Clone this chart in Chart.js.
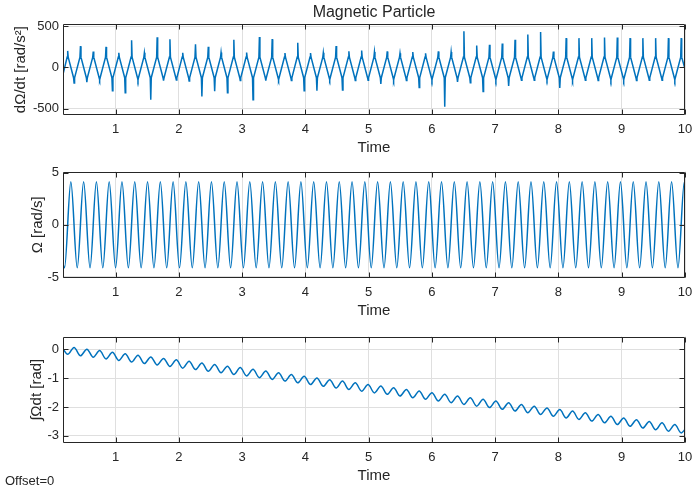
<!DOCTYPE html>
<html><head><meta charset="utf-8">
<script src="https://cdn.jsdelivr.net/npm/chart.js@4/dist/chart.umd.min.js"></script>
<style>
body{margin:0;background:#fff;width:693px;height:491px;overflow:hidden;position:relative;font-family:"Liberation Sans",Arial,sans-serif}
canvas{position:absolute;left:0}
#offset{position:absolute;left:5px;top:473px;font-size:13px;line-height:16px;color:#262626}
</style></head><body>
<canvas id="c1" width="693" height="160" style="top:0px"></canvas>
<canvas id="c2" width="693" height="163" style="top:160px"></canvas>
<canvas id="c3" width="693" height="165" style="top:323px"></canvas>
<div id="offset">Offset=0</div>
<script>
// ---- data ----
// times of the upward spikes of dΩ/dt (one per oscillation cycle)
const cycleTimes = [0.244,0.446,0.648,0.850,1.052,1.254,1.456,1.658,1.860,2.062,2.264,2.466,2.668,2.870,3.072,3.274,3.476,3.678,3.880,4.082,4.284,4.486,4.688,4.890,5.092,5.294,5.496,5.698,5.900,6.102,6.304,6.506,6.708,6.910,7.112,7.314,7.516,7.718,7.920,8.122,8.324,8.526,8.728,8.930,9.132,9.334,9.536,9.738,9.940];
const halfPeriod = 0.101;
const quarterPeriod = 0.05;
const xRange = [0.17, 10];
const xTicks = [1,2,3,4,5,6,7,8,9,10];

// dΩ/dt [rad/s^2]
const accelSpikeUp = [200,258,192,249,177,330,177,366,340,178,281,250,180,335,180,370,343,175,298,175,178,260,195,205,186,194,172,186,172,194,186,437,266,274,290,335,400,430,192,355,355,355,362,362,355,355,355,355,355];
const accelSpikeDown = [-190,-178,-150,-283,-308,-155,-393,-160,-152,-165,-352,-290,-308,-160,-393,-160,-150,-160,-283,-283,-150,-273,-160,-155,-200,-155,-160,-245,-155,-478,-175,-185,-292,-155,-225,-155,-155,-150,-248,-155,-155,-158,-155,-155,-158,-155,-155,-155];
const accelShoulder = [125, -125];
const accelEnds = [-85, -20];
const accelTicks = [-500, 0, 500];
const accelRange = [-577, 524];

// Ω [rad/s]
const omegaPeaks = [4.13,4.13,4.13,4.13,4.13,4.13,4.13,4.13,4.13,4.13,4.13,4.13,4.13,4.13,4.13,4.13,4.13,4.13,4.13,4.13,4.13,4.13,4.13,4.13,4.13,4.13,4.13,4.13,4.13,4.13,4.13,4.13,4.13,4.13,4.13,4.13,4.13,4.13,4.13,4.13,4.13,4.13,4.13,4.13,4.13,4.13,4.13,4.13,4.13];
const omegaTroughs = [-4.13,-4.13,-4.13,-4.13,-4.13,-4.13,-4.13,-4.13,-4.13,-4.13,-4.13,-4.13,-4.13,-4.13,-4.13,-4.13,-4.13,-4.13,-4.13,-4.13,-4.13,-4.13,-4.13,-4.13,-4.13,-4.13,-4.13,-4.13,-4.13,-4.13,-4.13,-4.13,-4.13,-4.13,-4.13,-4.13,-4.13,-4.13,-4.13,-4.13,-4.13,-4.13,-4.13,-4.13,-4.13,-4.13,-4.13,-4.13,-4.13,-4.13];
const omegaStart = -3.8;
const omegaTicks = [-5, 0, 5];
const omegaRange = [-5.1, 5.1];

// ∫Ωdt [rad]
const angleMins = [-0.17,-0.22,-0.27,-0.33,-0.38,-0.44,-0.49,-0.54,-0.59,-0.65,-0.70,-0.76,-0.81,-0.87,-0.92,-0.98,-1.04,-1.10,-1.16,-1.22,-1.28,-1.34,-1.39,-1.45,-1.51,-1.56,-1.62,-1.68,-1.73,-1.79,-1.85,-1.91,-1.97,-2.02,-2.08,-2.14,-2.20,-2.26,-2.32,-2.38,-2.43,-2.49,-2.55,-2.61,-2.67,-2.73,-2.79,-2.84,-2.90];
const angleMaxs = [0.07,0.01,-0.04,-0.10,-0.15,-0.20,-0.26,-0.31,-0.36,-0.41,-0.47,-0.52,-0.58,-0.63,-0.69,-0.75,-0.81,-0.87,-0.93,-0.99,-1.05,-1.10,-1.16,-1.22,-1.27,-1.33,-1.39,-1.44,-1.50,-1.56,-1.62,-1.68,-1.73,-1.79,-1.85,-1.91,-1.97,-2.03,-2.09,-2.14,-2.20,-2.26,-2.32,-2.38,-2.44,-2.50,-2.55,-2.61];
const angleEnds = [0.02, -2.78];
const angleTicks = [-3, -2, -1, 0];
const angleRange = [-3.25, 0.45];

// ---- build point lists from the arrays ----
const spikeHalfWidth = 0.008;
const accelPts = [{x: xRange[0], y: accelEnds[0]}];
cycleTimes.forEach((t, i) => {
  accelPts.push({x: t - spikeHalfWidth, y: accelShoulder[0]}, {x: t, y: accelSpikeUp[i]}, {x: t + spikeHalfWidth, y: accelShoulder[0]});
  if (i < accelSpikeDown.length) {
    const td = t + halfPeriod;
    accelPts.push({x: td - spikeHalfWidth, y: accelShoulder[1]}, {x: td, y: accelSpikeDown[i]}, {x: td + spikeHalfWidth, y: accelShoulder[1]});
  }
});
accelPts.push({x: xRange[1], y: accelEnds[1]});

const omegaPts = [{x: xRange[0], y: omegaStart}, {x: cycleTimes[0] - quarterPeriod, y: omegaTroughs[0]}];
cycleTimes.forEach((t, i) => {
  omegaPts.push({x: t + quarterPeriod, y: omegaPeaks[i]}, {x: t + quarterPeriod + halfPeriod, y: omegaTroughs[i + 1]});
});

const anglePts = [{x: xRange[0], y: angleEnds[0]}];
cycleTimes.forEach((t, i) => {
  anglePts.push({x: t, y: angleMins[i]});
  if (i < angleMaxs.length) anglePts.push({x: t + halfPeriod, y: angleMaxs[i]});
});
anglePts.push({x: xRange[1], y: angleEnds[1]});

// ---- styling ----
const FONT = '"Liberation Sans", Arial, Helvetica, sans-serif';
const TXT = '#262626';
const LINE = '#0072BD';
const GRID = '#dfdfdf';

const frame = {
  id: 'frame',
  afterDraw(chart) {
    const {ctx, chartArea: a, scales: {x, y}} = chart;
    ctx.save();
    ctx.strokeStyle = TXT;
    ctx.lineWidth = 1;
    const L = Math.round(a.left) + 0.5, R = Math.round(a.right) - 0.5, T = Math.round(a.top) + 0.5, B = Math.round(a.bottom) - 0.5;
    ctx.beginPath();
    ctx.rect(L, T, R - L, B - T);
    x.ticks.forEach(t => { const p = Math.round(x.getPixelForValue(t.value)) + 0.5; ctx.moveTo(p, B); ctx.lineTo(p, B - 5); ctx.moveTo(p, T); ctx.lineTo(p, T + 5); });
    y.ticks.forEach(t => { const p = Math.round(y.getPixelForValue(t.value)) + 0.5; ctx.moveTo(L, p); ctx.lineTo(L + 5, p); ctx.moveTo(R, p); ctx.lineTo(R - 5, p); });
    ctx.stroke();
    ctx.restore();
  }
};

function makeChart(id, pts, yRange, yTicks, yLabel, yTitlePad, padTop, title, smooth) {
  return new Chart(document.getElementById(id), {
    type: 'line',
    data: {datasets: [{data: pts, borderColor: LINE, borderWidth: 1.5, pointRadius: 0, fill: false,
      tension: 0, cubicInterpolationMode: smooth ? 'monotone' : 'default'}]},
    options: {
      responsive: false, animation: false, devicePixelRatio: 1,
      layout: {padding: {top: padTop, right: 8, left: 0, bottom: 0}},
      plugins: {
        legend: {display: false}, tooltip: {enabled: false},
        title: title ? {display: true, fullSize: false, text: title, color: TXT, font: {family: FONT, size: 16, weight: 'normal'}, padding: {top: 3, bottom: 2}} : {display: false}
      },
      scales: {
        x: {
          type: 'linear', min: xRange[0], max: xRange[1],
          afterBuildTicks: s => { s.ticks = xTicks.map(v => ({value: v})); },
          afterFit: s => { s.height = 45; s.paddingLeft = 0; s.paddingRight = 0; },
          ticks: {color: TXT, font: {family: FONT, size: 13}, padding: 6.5, maxRotation: 0, callback: v => String(v)},
          grid: {color: GRID, lineWidth: 1, drawTicks: false},
          border: {display: false},
          title: {display: true, text: 'Time', color: TXT, font: {family: FONT, size: 15}, padding: {top: 0, bottom: 3}}
        },
        y: {
          type: 'linear', min: yRange[0], max: yRange[1],
          afterBuildTicks: s => { s.ticks = yTicks.map(v => ({value: v})); },
          afterFit: s => { s.width = 63; s.paddingTop = 0; s.paddingBottom = 0; },
          ticks: {color: TXT, font: {family: FONT, size: 13}, padding: 4, callback: v => String(v)},
          grid: {color: GRID, lineWidth: 1, drawTicks: false},
          border: {display: false},
          title: {display: true, text: yLabel, color: TXT, font: {family: FONT, size: 15}, padding: {top: yTitlePad, bottom: 0}}
        }
      }
    },
    plugins: [frame]
  });
}

makeChart('c1', accelPts, accelRange, accelTicks, 'dΩ/dt [rad/s²]', 12, 0, 'Magnetic Particle', false);
makeChart('c2', omegaPts, omegaRange, omegaTicks, 'Ω [rad/s]', 29, 11.5, null, true);
makeChart('c3', anglePts, angleRange, angleTicks, '∫Ωdt [rad]', 28, 13.5, null, true);
</script>
</body></html>
